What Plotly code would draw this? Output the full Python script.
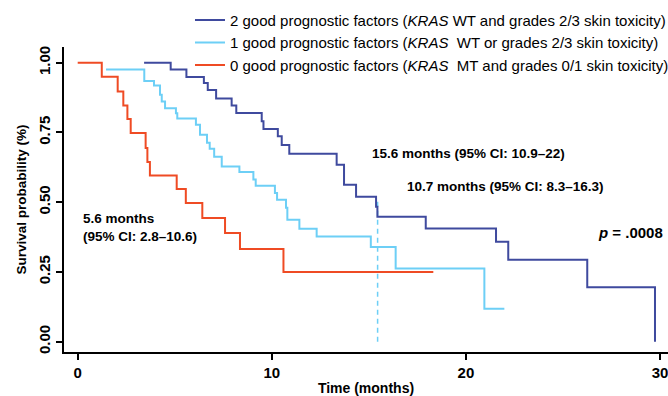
import plotly.graph_objects as go

# ---- data ----
# 2 good prognostic factors (dark blue)
t_two = [3.42, 4.79, 5.6, 6.5, 6.7, 7.13, 7.93, 8.17, 9.48, 9.57, 10.31, 10.51, 10.9,
         13.34, 13.72, 14.34, 15.37, 15.44, 17.93, 21.55, 22.18, 26.25, 29.74]
s_two = [1.0, 0.976, 0.949, 0.927, 0.902, 0.872, 0.847, 0.820, 0.790, 0.762, 0.736, 0.705, 0.674,
         0.634, 0.563, 0.520, 0.484, 0.448, 0.406, 0.358, 0.294, 0.195, 0.0]

# 1 good prognostic factor (light blue)
t_one = [1.46, 3.43, 3.93, 4.24, 4.33, 4.5, 5.06, 5.13, 6.09, 6.3, 6.66, 6.8, 7.03, 7.42,
         8.33, 9.05, 9.17, 10.16, 10.27, 10.73, 10.8, 11.42, 12.31, 15.1, 16.38, 20.95, 21.98]
s_one = [0.976, 0.934, 0.918, 0.885, 0.861, 0.837, 0.819, 0.800, 0.778, 0.742, 0.713, 0.692, 0.663, 0.628,
         0.608, 0.581, 0.559, 0.533, 0.509, 0.480, 0.437, 0.405, 0.377, 0.339, 0.262, 0.118, 0.118]

# 0 good prognostic factors (red)
t_zero = [0, 1.24, 2.06, 2.35, 2.56, 2.73, 3.5, 3.59, 3.72, 5.1, 5.57, 6.42, 7.59, 8.36, 10.6, 18.32]
s_zero = [1.0, 0.95, 0.897, 0.847, 0.798, 0.748, 0.694, 0.644, 0.596, 0.547, 0.497, 0.443, 0.39, 0.332, 0.25, 0.25]

median_line_x = [15.45, 15.45]
median_line_y = [0.0, 0.515]

names = [
    "2 good prognostic factors (<i>KRAS</i> WT and grades 2/3 skin toxicity)",
    "1 good prognostic factors (<i>KRAS</i>  WT or grades 2/3 skin toxicity)",
    "0 good prognostic factors (<i>KRAS</i>  MT and grades 0/1 skin toxicity)",
]
colors = ["#3F4A9E", "#6DCFF6", "#EF4B24"]

x_ticks = [0, 10, 20, 30]
y_ticks = [0.0, 0.25, 0.5, 0.75, 1.0]

FONT = "Liberation Sans"

fig = go.Figure()

fig.add_trace(go.Scatter(x=median_line_x, y=median_line_y, mode="lines",
                         line=dict(color=colors[1], width=1.5, dash="5px,4px"),
                         showlegend=False, hoverinfo="skip"))

for t, s, n, c in [(t_two, s_two, names[0], colors[0]),
                   (t_one, s_one, names[1], colors[1]),
                   (t_zero, s_zero, names[2], colors[2])]:
    fig.add_trace(go.Scatter(x=t, y=s, mode="lines", name=n,
                             line=dict(color=c, width=2, shape="hv")))

bold = dict(family=FONT, size=13.5, color="black", weight="bold")

fig.add_annotation(x=15.05, y=0.674, xref="x", yref="y", xanchor="left", yanchor="middle",
                   text="15.6 months (95% CI: 10.9–22)", showarrow=False, font=bold)
fig.add_annotation(x=16.85, y=0.557, xref="x", yref="y", xanchor="left", yanchor="middle",
                   text="10.7 months (95% CI: 8.3–16.3)", showarrow=False, font=bold)
fig.add_annotation(x=30.26, y=0.391, xref="x", yref="y", xanchor="right", yanchor="middle",
                   text="<i>p</i> = .0008", showarrow=False, font=dict(family=FONT, size=15, color="black", weight="bold"))
fig.add_annotation(x=0.17, y=0.410, xref="x", yref="y", xanchor="left", yanchor="middle", align="left",
                   text="5.6 months<br>(95% CI: 2.8–10.6)", showarrow=False, font=bold)

fig.update_layout(
    width=668, height=396,
    margin=dict(l=64, r=0, t=47, b=44, pad=0, autoexpand=False),
    paper_bgcolor="white", plot_bgcolor="white",
    font=dict(family=FONT, color="black"),
    legend=dict(x=0.2086, y=1.142, xanchor="left", yanchor="top",
                font=dict(family=FONT, size=15, color="black"),
                bgcolor="rgba(0,0,0,0)", itemwidth=30, tracegroupgap=0),
    xaxis=dict(range=[-0.706, 30.41], tickvals=x_ticks, ticktext=[str(v) for v in x_ticks],
               showline=True, linecolor="black", linewidth=2, ticks="outside", ticklen=6, tickwidth=2,
               tickcolor="black", showgrid=False, zeroline=False, ticklabeloverflow="allow",
               automargin=False,
               tickfont=dict(family=FONT, size=15, weight="bold"),
               title=dict(text="Time (months)", font=dict(family=FONT, size=14, weight="bold"), standoff=8)),
    yaxis=dict(range=[-0.0369, 1.0563], tickvals=y_ticks, tickformat=".2f", tickangle=-90,
               showline=True, linecolor="black", linewidth=2, ticks="outside", ticklen=6, tickwidth=2,
               tickcolor="black", showgrid=False, zeroline=False, automargin=False,
               tickfont=dict(family=FONT, size=15, weight="bold"),
               title=dict(text="Survival probability (%)", font=dict(family=FONT, size=13.5, weight="bold"), standoff=6)),
)

fig.write_html("out.html")
